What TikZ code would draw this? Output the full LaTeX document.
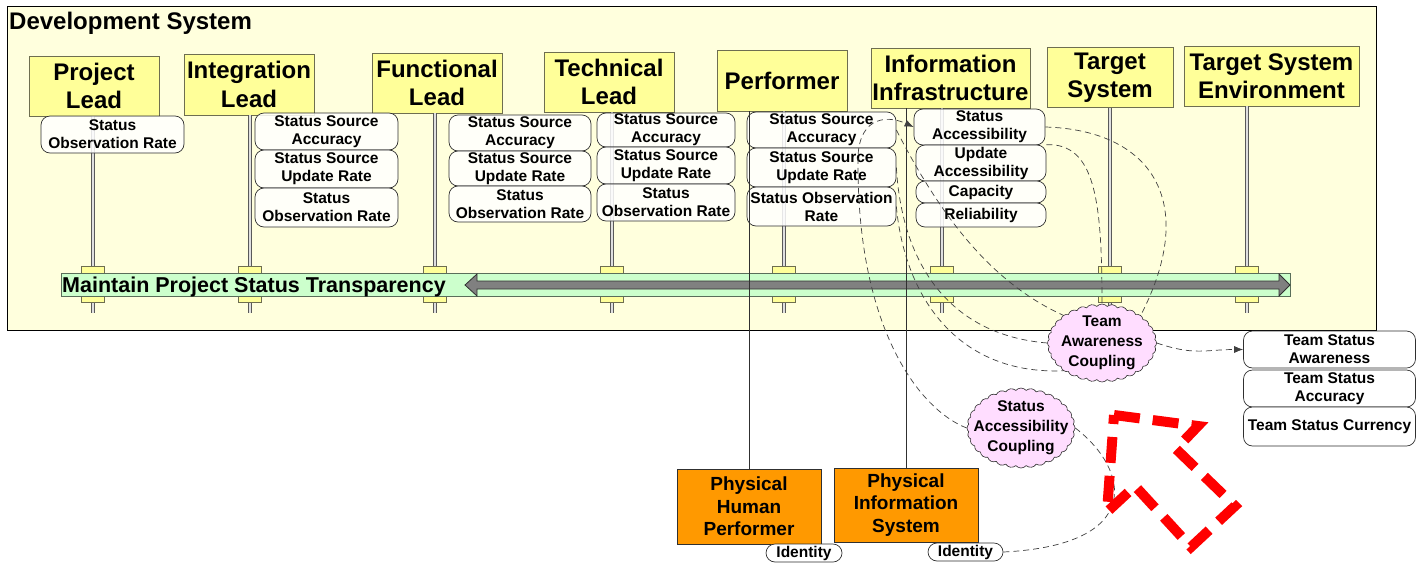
\documentclass[tikz,border=0pt]{standalone}
\usepackage{fontspec}
\setmainfont{Liberation Sans}
\usetikzlibrary{arrows.meta,shapes.symbols}
\definecolor{Ink}{HTML}{303030}
\definecolor{FrameFill}{HTML}{FFFFDD}
\definecolor{HeadFill}{HTML}{FFFF99}
\definecolor{HeadEdge}{HTML}{6E6E50}
\definecolor{BarFill}{HTML}{CCFFCC}
\definecolor{BarEdge}{HTML}{5A6E5A}
\definecolor{Shaft}{HTML}{808080}
\definecolor{Orange}{HTML}{FF9900}
\definecolor{Pink}{HTML}{FFDDFF}
\definecolor{LinkGray}{HTML}{404040}
\definecolor{Alert}{HTML}{FF0000}
\begin{document}
\begin{tikzpicture}[x=1pt,y=-1pt,every node/.style={align=center,inner sep=0pt},
  head/.style={draw=HeadEdge,fill=HeadFill,line width=0.8pt,font=\fontsize{24}{28.5}\selectfont\bfseries},
  attr/.style={draw=Ink,fill=white,fill opacity=0.85,text opacity=1,rounded corners=9pt,line width=0.7pt,font=\fontsize{15.5}{18}\selectfont\bfseries},
  port/.style={draw=HeadEdge,fill=HeadFill,line width=0.7pt,minimum width=23pt,minimum height=36pt},
  lifeline/.style={draw=gray!70!black,double=gray!25,line width=1pt,double distance=2pt},
  phys/.style={draw=Ink,fill=Orange,line width=0.8pt,font=\fontsize{19}{22.5}\selectfont\bfseries},
  coupling/.style={cloud,cloud puffs=32,cloud puff arc=100,aspect=1.4,draw=Ink,fill=Pink,line width=0.6pt},
  link/.style={draw=LinkGray,line width=0.7pt,dash pattern=on 6pt off 4pt},
  wire/.style={draw=Ink,line width=0.8pt},
  tip/.style={-{Latex[length=9pt,width=7pt]}}]
  \path[use as bounding box,fill=white] (0,0) rectangle (1416,563);

  % development system frame
  \draw[fill=FrameFill,line width=0.8pt] (7,6) rectangle (1376,330);
  \node[anchor=base west,font=\fontsize{24}{28}\selectfont\bfseries] (devsys) at (9,29) {Development System};

  % roles
  \node[head,minimum width=130pt,minimum height=60pt] (plead) at (94,86) {Project\\Lead};
  \node[head,minimum width=130pt,minimum height=61pt] (ilead) at (249,84.5) {Integration\\Lead};
  \node[head,minimum width=130pt,minimum height=60pt] (flead) at (437,83) {Functional\\Lead};
  \node[head,minimum width=130pt,minimum height=60pt] (tlead) at (609,82) {Technical\\Lead};
  \node[head,minimum width=130pt,minimum height=61pt] (perf) at (782,80.5) {Performer};
  \node[head,minimum width=159pt,minimum height=60pt] (infra) at (950.5,78) {Information\\Infrastructure};
  \node[head,minimum width=126pt,minimum height=60pt] (tsys) at (1110,77.5) {Target\\System};
  \node[head,minimum width=175pt,minimum height=60pt] (tenv) at (1271.5,76) {Target System\\Environment};

  \foreach \h/\x in {plead/93,ilead/250,flead/435,tlead/612,perf/784,infra/942,tsys/1110,tenv/1247}{
    \coordinate (\h-foot) at (\x,313);
    \draw[lifeline] (\h.south -| \h-foot) -- (\h-foot);
    \node[port] (\h-port) at (\x,284) {};
  }

  % shared goal
  \node[draw=BarEdge,fill=BarFill,line width=0.8pt,minimum width=1229pt,minimum height=23pt,anchor=west] (goal) at (61,284.5) {};
  \draw[draw=Ink,fill=Shaft,line width=0.8pt] (465,285) -- (477,274) -- (477,281) -- (1279,281) -- (1279,274) -- (1290,285)
    -- (1279,296) -- (1279,289) -- (477,289) -- (477,296) -- cycle;
  \node[anchor=base west,font=\fontsize{21.5}{24}\selectfont\bfseries] (goal-txt) at (62,292.5) {Maintain Project Status Transparency};

  % attributes
  \node[attr,minimum width=143pt,minimum height=37pt] (pl1) at (112.5,134.5) {Status\\Observation Rate};

  \node[attr,minimum width=143pt,minimum height=37pt] (il1) at (326.5,131.5) {Status Source\\Accuracy};
  \node[attr,minimum width=143pt,minimum height=38pt] (il2) at (326.5,169) {Status Source\\Update Rate};
  \node[attr,minimum width=143pt,minimum height=39pt] (il3) at (326.5,207.5) {Status\\Observation Rate};

  \node[attr,minimum width=142pt,minimum height=36pt] (fl1) at (520,133) {Status Source\\Accuracy};
  \node[attr,minimum width=142pt,minimum height=35pt] (fl2) at (520,168.5) {Status Source\\Update Rate};
  \node[attr,minimum width=142pt,minimum height=36pt] (fl3) at (520,204) {Status\\Observation Rate};

  \node[attr,minimum width=138pt,minimum height=34pt] (tl1) at (666,130) {Status Source\\Accuracy};
  \node[attr,minimum width=138pt,minimum height=37pt] (tl2) at (666,165.5) {Status Source\\Update Rate};
  \node[attr,minimum width=138pt,minimum height=37pt] (tl3) at (666,202.5) {Status\\Observation Rate};

  \node[attr,minimum width=149pt,minimum height=36pt] (p1) at (821.5,130) {Status Source\\Accuracy};
  \node[attr,minimum width=149pt,minimum height=39pt] (p2) at (821.5,167.5) {Status Source\\Update Rate};
  \node[attr,minimum width=149pt,minimum height=39pt] (p3) at (821.5,206.5) {Status Observation\\Rate};

  \node[attr,minimum width=131pt,minimum height=36pt] (ia1) at (979.5,127) {Status\\Accessibility};
  \node[attr,minimum width=130pt,minimum height=36pt] (ia2) at (981,163) {Update\\Accessibility};
  \node[attr,minimum width=130pt,minimum height=22pt] (ia3) at (981,192) {Capacity};
  \node[attr,minimum width=130pt,minimum height=24pt] (ia4) at (981,215) {Reliability};

  % physical realisation
  \node[phys,minimum width=144pt,minimum height=75pt] (php) at (749,506.5) {Physical\\Human\\Performer};
  \node[phys,minimum width=144pt,minimum height=74pt] (pis) at (906,505) {Physical\\Information\\System};
  \node[attr,fill opacity=1,minimum width=76pt,minimum height=18pt] (id1) at (804,553) {Identity};
  \node[attr,fill opacity=1,minimum width=75pt,minimum height=18pt] (id2) at (965.5,552) {Identity};
  \draw[wire] (perf.south -| php.north) -- (php.north);
  \draw[wire] (infra.south -| pis.north) -- (pis.north);

  % team status
  \node[attr,fill opacity=1,minimum width=172pt,minimum height=37pt] (ts1) at (1329.5,349.5) {Team Status\\Awareness};
  \node[attr,fill opacity=1,minimum width=172pt,minimum height=37pt] (ts2) at (1329.5,388.5) {Team Status\\Accuracy};
  \node[attr,fill opacity=1,minimum width=172pt,minimum height=39pt] (ts3) at (1329.5,426.5) {Team Status Currency};

  % couplings
  \node[coupling,minimum width=109pt,minimum height=78pt] (tac) at (1102,343) {};
  \node[font=\fontsize{15.5}{20}\selectfont\bfseries] (tac-txt) at (tac.center) {Team\\Awareness\\Coupling};
  \node[coupling,minimum width=108pt,minimum height=80pt] (sac) at (1021,428) {};
  \node[font=\fontsize{15.5}{20}\selectfont\bfseries] (sac-txt) at (sac.center) {Status\\Accessibility\\Coupling};

  \draw[link,tip] (sac.west) .. controls (920,410) and (858,330) .. (858,165) .. controls (856,118) and (885,114) .. (ia1.west);
  \draw[link] (p1.east) .. controls (935,205) and (985,280) .. (tac.north west);
  \draw[link] (p2.east) .. controls (902,265) and (950,335) .. (tac.west);
  \draw[link] (p3.east) .. controls (905,300) and (960,375) .. (tac.south west);
  \draw[link] (ia1.east) .. controls (1150,130) and (1200,200) .. (tac.north east);
  \draw[link] (ia2.north east) .. controls (1095,143) and (1102,200) .. (tac.north);
  \draw[link,tip] (tac.east) .. controls (1195,356) and (1205,349.5) .. (ts1.west);
  \draw[link] (sac.east) .. controls (1130,470) and (1145,545) .. (id2.east);

  % red marker
  \draw[Alert,line width=10pt,dash pattern=on 26pt off 13pt,line join=miter] (1114,415) -- (1198,426) -- (1176,449)
    -- (1235,506) -- (1191,547) -- (1135,486) -- (1107,512) -- cycle;
\end{tikzpicture}
\end{document}
